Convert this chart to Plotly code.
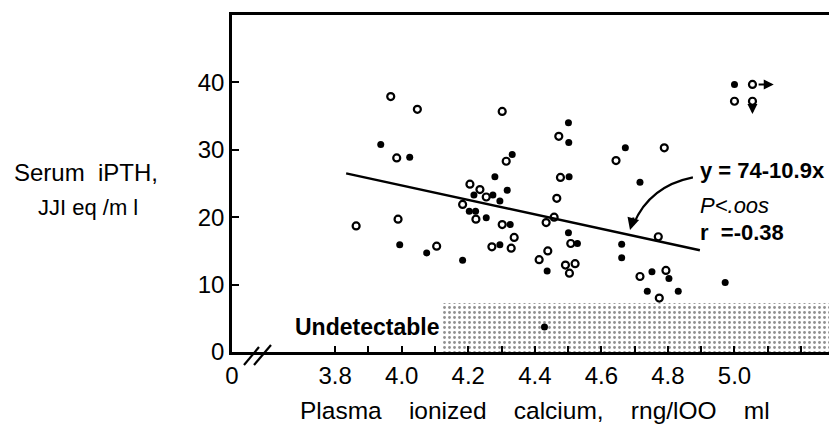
import plotly.graph_objects as go

# Open circles: patients (x = plasma ionized calcium, y = serum iPTH)
open_x = [3.967, 4.047, 4.302, 4.472, 3.985, 4.314, 4.477, 4.205, 4.235, 4.466,
          4.254, 4.183, 4.223, 4.434, 4.458, 3.863, 3.989, 4.302, 4.338, 4.105,
          4.271, 4.329, 4.413, 4.439, 4.492, 4.504, 4.521, 4.508, 4.644, 4.789,
          4.771, 4.716, 4.794, 4.774, 5.000, 5.054, 5.054]
open_y = [37.9, 36.0, 35.7, 32.0, 28.8, 28.3, 25.9, 24.9, 24.1, 22.8,
          23.0, 21.9, 19.7, 19.2, 20.0, 18.7, 19.7, 18.9, 17.0, 15.7,
          15.6, 15.4, 13.7, 15.0, 12.9, 11.7, 13.1, 16.1, 28.4, 30.3,
          17.1, 11.2, 12.1, 8.0, 37.2, 37.2, 39.7]

# Filled circles
filled_x = [4.501, 4.502, 3.937, 4.024, 4.332, 4.280, 4.503, 4.317, 4.217, 4.274,
            4.295, 4.203, 4.222, 4.254, 4.501, 4.326, 3.994, 4.075, 4.295, 4.183,
            4.437, 4.528, 4.429, 5.000, 4.672, 4.716, 4.661, 4.661, 4.752, 4.803,
            4.738, 4.831, 4.972]
filled_y = [34.0, 31.1, 30.8, 28.9, 29.3, 26.0, 26.0, 24.0, 23.3, 23.3,
            22.4, 20.9, 20.9, 19.9, 17.7, 18.9, 15.9, 14.7, 15.9, 13.6,
            12.0, 16.1, 3.7, 39.7, 30.3, 25.2, 16.0, 14.0, 11.9, 10.9,
            9.0, 9.0, 10.3]

# Regression line end points
fit_x = [3.833, 4.896]
fit_y = [26.5, 15.1]

# Zone below assay detection limit
undetect_x = [4.12, 5.32]
undetect_top = 7.3

x_tickvals = [3.49, 3.8, 3.9, 4.0, 4.1, 4.2, 4.3, 4.4, 4.5, 4.6, 4.7, 4.8, 4.9, 5.0, 5.1, 5.2]
x_ticktext = ["0", "3.8", "", "4.0", "", "4.2", "", "4.4", "", "4.6", "", "4.8", "", "5.0", "", ""]
y_tickvals = [0, 10, 20, 30, 40]

FONT = "Liberation Sans, Arial, Helvetica, sans-serif"
L, R, T, B = 232, 0, 15, 75
W, H = 829, 427
pw, ph = W - L - R, H - T - B
SP = "\u00a0" * 4


def px(xp):
    return (xp - L) / pw


def py(yp):
    return (H - B - yp) / ph


fig = go.Figure()

fig.add_trace(go.Bar(
    x=[(undetect_x[0] + undetect_x[1]) / 2], y=[undetect_top],
    width=[undetect_x[1] - undetect_x[0]],
    marker=dict(color="white", line=dict(width=0),
                pattern=dict(shape=".", fgcolor="#222", bgcolor="white",
                             size=5, solidity=0.25)),
    hoverinfo="skip", showlegend=False,
))

fig.add_trace(go.Scatter(
    x=fit_x, y=fit_y, mode="lines",
    line=dict(color="black", width=2.5), showlegend=False,
))

fig.add_trace(go.Scatter(
    x=open_x, y=open_y, mode="markers",
    marker=dict(symbol="circle-open", size=7, color="black", line=dict(width=2.2)),
    showlegend=False,
))

fig.add_trace(go.Scatter(
    x=filled_x, y=filled_y, mode="markers",
    marker=dict(symbol="circle", size=7, color="black"),
    showlegend=False,
))

ann = []
# Arrows on off-scale values
ann.append(dict(x=5.118, y=39.7, ax=5.068, ay=39.7, xref="x", yref="y", axref="x", ayref="y",
                showarrow=True, arrowhead=2, arrowsize=1, arrowwidth=2, arrowcolor="black", text=""))
ann.append(dict(x=5.054, y=35.3, ax=5.054, ay=36.5, xref="x", yref="y", axref="x", ayref="y",
                showarrow=True, arrowhead=2, arrowsize=1, arrowwidth=2, arrowcolor="black", text=""))

# Regression statistics
ann.append(dict(x=4.89, y=27.0, xref="x", yref="y", xanchor="left", yanchor="middle",
                text="<b>y = 74-10.9x</b>", showarrow=False,
                font=dict(family=FONT, size=22, color="black")))
ann.append(dict(x=4.89, y=21.8, xref="x", yref="y", xanchor="left", yanchor="middle",
                text="<i>P&lt;.oos</i>", showarrow=False,
                font=dict(family=FONT, size=22, color="black")))
ann.append(dict(x=4.89, y=17.8, xref="x", yref="y", xanchor="left", yanchor="middle",
                text="<b>r  =-0.38</b>", showarrow=False,
                font=dict(family=FONT, size=22, color="black")))
# arrow head of the curved pointer
ann.append(dict(x=4.686, y=18.1, ax=4, ay=-14, xref="x", yref="y",
                showarrow=True, arrowhead=2, arrowsize=1.2, arrowwidth=2, arrowcolor="black",
                standoff=0, text=""))

ann.append(dict(x=3.896, y=3.7, xref="x", yref="y", xanchor="center", yanchor="middle",
                text="<b>Undetectable</b>", showarrow=False,
                font=dict(family=FONT, size=23, color="black")))

# Axis titles
ann.append(dict(x=px(86), y=py(172), xref="paper", yref="paper", xanchor="center", yanchor="middle",
                text="Serum\u00a0\u00a0iPTH,", showarrow=False,
                font=dict(family=FONT, size=24, color="black")))
ann.append(dict(x=px(88), y=py(207), xref="paper", yref="paper", xanchor="center", yanchor="middle",
                text="JJI\u00a0eq\u00a0/m\u00a0l", showarrow=False,
                font=dict(family=FONT, size=22, color="black")))
ann.append(dict(x=px(535), y=py(410), xref="paper", yref="paper", xanchor="center", yanchor="middle",
                text=SP.join(["Plasma", "ionized", "calcium,", "rng/lOO", "ml"]),
                showarrow=False, font=dict(family=FONT, size=24.5, color="black")))

fig.update_layout(annotations=ann)

shapes = []
# curved pointer from the statistics to the line
shapes.append(dict(type="path", xref="x", yref="y",
                   path="M 4.875,25.9 Q 4.745,24.6 4.697,19.0",
                   line=dict(color="black", width=2.2)))
# axis break marks
shapes.append(dict(type="line", xref="paper", yref="paper",
                   x0=px(244), y0=py(365), x1=px(259), y1=py(347),
                   line=dict(color="black", width=2.2)))
shapes.append(dict(type="line", xref="paper", yref="paper",
                   x0=px(254), y0=py(365), x1=px(271), y1=py(345),
                   line=dict(color="black", width=2.2)))
fig.update_layout(shapes=shapes)

fig.update_xaxes(range=[3.49, 5.284], tickvals=x_tickvals, ticktext=x_ticktext,
                 ticks="inside", ticklen=6, tickwidth=2, tickcolor="black",
                 showline=True, linewidth=2.5, linecolor="black", mirror=True,
                 showgrid=False, zeroline=False,
                 tickfont=dict(family=FONT, size=24, color="black"))
fig.update_yaxes(range=[0, 50], tickvals=y_tickvals,
                 ticks="inside", ticklen=7, tickwidth=2, tickcolor="black",
                 showline=True, linewidth=2.5, linecolor="black", mirror=False,
                 showgrid=False, zeroline=False,
                 tickfont=dict(family=FONT, size=24, color="black"))

fig.update_layout(width=W, height=H, margin=dict(l=L, r=R, t=T, b=B),
                  paper_bgcolor="white", plot_bgcolor="white",
                  showlegend=False, bargap=0)

fig.write_html("out.html")
